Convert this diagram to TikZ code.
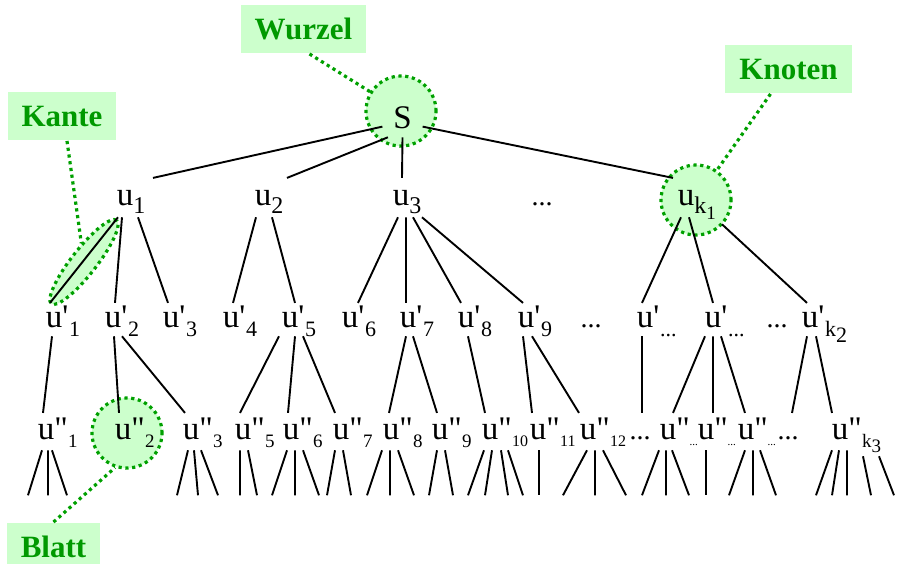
\documentclass[tikz,border=0pt]{standalone}
\usepackage{fontspec}
\usepackage{xcolor}
\usepackage{tikz}
\usetikzlibrary{shapes.geometric,backgrounds}
\newfontfamily\tms{Liberation Serif}
\definecolor{hlfill}{HTML}{CCFFCC}
\definecolor{hldot}{HTML}{00A000}
\definecolor{tagtxt}{HTML}{009900}
\newcommand{\dn}[3]{\raisebox{-#1pt}{\fontsize{#2}{#2}\selectfont #3}}
\newcommand{\sA}[1]{\rlap{\smash{\dn{8}{24}{#1}}}}
\newcommand{\sB}[1]{\rlap{\smash{'\kern1pt\dn{9}{22}{#1}}}}
\newcommand{\sC}[1]{\rlap{\smash{"\kern0.5pt\dn{8}{19}{#1}}}}
\newcommand{\sD}[1]{\rlap{\smash{"\kern0.5pt\dn{7}{16}{#1}}}}
\newcommand{\sE}{\rlap{\smash{"\dn{6}{11}{...}}}}
\newcommand{\dts}{\vphantom{u}{\fontsize{28}{28}\selectfont...}}

\begin{document}
\begin{tikzpicture}[x=1pt,y=-1pt,line width=1.9pt,
  lvl/.style={font=\tms\fontsize{33}{36}\selectfont,anchor=base,inner xsep=3pt,inner ysep=#1},
  hl/.style={fill=hlfill,draw=hldot,line width=3.2pt,dash pattern=on 3.2pt off 3.6pt,inner sep=0pt},
  tag/.style={fill=hlfill,text=tagtxt,font=\tms\bfseries\fontsize{31}{34}\selectfont,minimum height=48pt,inner xsep=14pt},
  callout/.style={draw=hldot,line width=3.2pt,dash pattern=on 3.2pt off 3.6pt}]
\useasboundingbox (0,0) rectangle (899,563);
\clip (0,0) rectangle (899,563);
% root and first level
\node[lvl=8pt,inner xsep=10pt] (S) at (402.5,128) {S};
\node[lvl=11pt] (u1) at (125,205) {u\sA{1}}; \node[lvl=11pt] (u2) at (263,205) {u\sA{2}}; \node[lvl=11pt] (u3) at (401,205) {u\sA{3}};
\node[lvl=11pt] (dA) at (542,205) {\dts}; \node[lvl=11pt] (uk1) at (686,205) {u\sA{k\dn{6}{19}{1}}};
% second level
\node[lvl=8pt] (up1) at (54,327) {u\sB{1}}; \node[lvl=8pt] (up2) at (113,327) {u\sB{2}}; \node[lvl=8pt] (up3) at (171,327) {u\sB{3}};
\node[lvl=8pt] (up4) at (231,327) {u\sB{4}}; \node[lvl=8pt] (up5) at (290,327) {u\sB{5}}; \node[lvl=8pt] (up6) at (350,327) {u\sB{6}};
\node[lvl=8pt] (up7) at (408,327) {u\sB{7}}; \node[lvl=8pt] (up8) at (466,327) {u\sB{8}}; \node[lvl=8pt] (up9) at (526,327) {u\sB{9}};
\node[lvl=8pt] (dB1) at (591,327) {\dts}; \node[lvl=8pt] (upa) at (645,327) {u\sB{...}}; \node[lvl=8pt] (upb) at (713,327) {u\sB{...}};
\node[lvl=8pt] (dB2) at (777,327) {\dts}; \node[lvl=8pt] (upk) at (810,327) {u\sB{k\dn{6}{22}{2}}};
% third level
\node[lvl=10pt] (upp1) at (46,439) {u\sC{1}}; \node[lvl=10pt] (upp2) at (123,439) {u\sC{2}}; \node[lvl=10pt] (upp3) at (191,439) {u\sC{3}};
\node[lvl=10pt] (upp5) at (243,439) {u\sC{5}}; \node[lvl=10pt] (upp6) at (291,439) {u\sC{6}}; \node[lvl=10pt] (upp7) at (341,439) {u\sC{7}};
\node[lvl=10pt] (upp8) at (391,439) {u\sC{8}}; \node[lvl=10pt] (upp9) at (440,439) {u\sC{9}}; \node[lvl=10pt] (upp10) at (490,439) {u\sD{10}};
\node[lvl=10pt] (upp11) at (538,439) {u\sD{11}}; \node[lvl=10pt] (upp12) at (588,439) {u\sD{12}}; \node[lvl=10pt] (dC) at (640,439) {\dts};
\node[lvl=10pt] (uppa) at (668,439) {u\sE}; \node[lvl=10pt] (uppb) at (706,439) {u\sE}; \node[lvl=10pt] (uppc) at (746,439) {u\sE};
\node[lvl=10pt] (dD) at (788,439) {\dts}; \node[lvl=10pt] (uppk) at (840,439) {u\sC{k\dn{5}{19}{3}}};
% green marks behind the tree
\begin{scope}[on background layer]
\node[hl,circle,minimum size=70pt] (hlS) at (401,111) {};
\node[hl,circle,minimum size=70pt] (hlK) at (696,200) {};
\node[hl,circle,minimum size=70pt] (hlB) at (127,433) {};
\node[hl,ellipse,minimum width=106pt,minimum height=25pt,rotate=52] (hlE) at (84,262) {};
\end{scope}
% edges
\draw (S.205) -- ([xshift=28pt]u1.north) (S.234) -- ([xshift=24pt]u2.north) (S.south) -- ([xshift=1pt]u3.north) (S.-25) -- ([xshift=-13pt]uk1.north);
\draw ([xshift=-7pt]u1.south) -- ([xshift=-4pt]up1.north) ([xshift=-3pt]u1.south) -- ([xshift=2pt]up2.north) ([xshift=13pt]u1.south) -- ([xshift=-3pt]up3.north);
\draw ([xshift=-7pt]u2.south) -- ([xshift=2pt]up4.north) ([xshift=9pt]u2.south) -- ([xshift=5pt]up5.north);
\draw ([xshift=-3pt]u3.south) -- ([xshift=8pt]up6.north) ([xshift=5pt]u3.south) -- ([xshift=-2pt]up7.north) ([xshift=12pt]u3.south) -- ([xshift=-5pt]up8.north) ([xshift=21pt]u3.south) -- ([xshift=-3pt]up9.north);
\draw ([xshift=-5pt]uk1.south) -- ([xshift=-3pt]upa.north) ([xshift=3pt]uk1.south) -- (upb.north) ([xshift=36pt,yshift=-7pt]uk1.south) -- ([xshift=-3pt]upk.north);
\draw ([xshift=-2pt]up1.south) -- ([xshift=-3pt]upp1.north);
\draw ([xshift=1pt]up2.south) -- ([xshift=-4pt]upp2.north) ([xshift=9pt]up2.south) -- ([xshift=-6pt]upp3.north);
\draw ([xshift=-11pt]up5.south) -- ([xshift=-3pt]upp5.north) ([xshift=5pt]up5.south) -- ([xshift=-3pt]upp6.north) ([xshift=13pt]up5.south) -- ([xshift=-6pt]upp7.north);
\draw ([xshift=-2pt]up7.south) -- ([xshift=-2pt]upp8.north) ([xshift=5pt]up7.south) -- ([xshift=-3pt]upp9.north);
\draw ([xshift=2pt]up8.south) -- ([xshift=-5pt]upp10.north);
\draw ([xshift=-3pt]up9.south) -- ([xshift=-6pt]upp11.north) ([xshift=6pt]up9.south) -- ([xshift=-9pt]upp12.north);
\draw ([xshift=-3pt]upa.south) -- ([xshift=2pt]dC.north);
\draw ([xshift=-8pt]upb.south) -- ([xshift=5pt]uppa.north) (upb.south) -- ([xshift=7pt]uppb.north) ([xshift=8pt]upb.south) -- ([xshift=-1pt]uppc.north);
\draw ([xshift=-3pt]upk.south) -- ([xshift=4pt]dD.north) ([xshift=6pt]upk.south) -- ([xshift=-8pt]uppk.north);
% leaves
\draw ([xshift=-4pt]upp1.south) -- +(-14,45) ([xshift=2pt]upp1.south) -- +(0,45) ([xshift=6pt]upp1.south) -- +(15,45);
\draw ([xshift=-3pt]upp3.south) -- +(-11,45) ([xshift=3pt]upp3.south) -- +(4,45) ([xshift=10pt]upp3.south) -- +(17,45);
\draw ([xshift=-3pt]upp5.south) -- +(0,45) ([xshift=5pt]upp5.south) -- +(9,45);
\draw ([xshift=-4pt]upp6.south) -- +(-15,45) ([xshift=4pt]upp6.south) -- +(0,45) ([xshift=12pt]upp6.south) -- +(16,45);
\draw ([xshift=-6pt]upp7.south) -- +(-8,45) ([xshift=2pt]upp7.south) -- +(8,45);
\draw ([xshift=-9pt]upp8.south) -- +(-15,45) ([xshift=-1pt]upp8.south) -- +(0,45) ([xshift=7pt]upp8.south) -- +(16,45);
\draw ([xshift=-3pt]upp9.south) -- +(-8,45) ([xshift=5pt]upp9.south) -- +(8,45);
\draw ([xshift=-6pt]upp10.south) -- +(-16,45) ([xshift=2pt]upp10.south) -- +(-7,45) ([xshift=11pt]upp10.south) -- +(7,45) ([xshift=18pt]upp10.south) -- +(15,45);
\draw ([xshift=1pt]upp11.south) -- +(0,45);
\draw ([xshift=-1pt]upp12.south) -- +(-24,45) ([xshift=7pt]upp12.south) -- +(0,45) ([xshift=15pt]upp12.south) -- +(23,45);
\draw ([xshift=-9pt]uppa.south) -- +(-17,45) ([xshift=-2pt]uppa.south) -- +(0,45) ([xshift=4pt]uppa.south) -- +(17,45);
\draw (uppb.south) -- +(0,45);
\draw ([xshift=-1pt]uppc.south) -- +(-16,45) ([xshift=7pt]uppc.south) -- +(0,45) ([xshift=14pt]uppc.south) -- +(16,45);
\draw ([xshift=-8pt]uppk.south) -- +(-16,45) ([xshift=-1pt]uppk.south) -- +(-7,45) ([xshift=7pt]uppk.south) -- +(0,45)
  ([xshift=23pt,yshift=-6pt]uppk.south) -- +(8,39) ([xshift=39pt,yshift=-6pt]uppk.south) -- +(15,39);
% labels
\node[tag] (lblW) at (303.5,29) {Wurzel};
\node[tag] (lblE) at (62,116) {Kante};
\node[tag] (lblK) at (788.5,69) {Knoten};
\node[tag] (lblB) at (53.5,547) {Blatt};
\draw[callout] ([xshift=6pt]lblW.south) -- (hlS);
\draw[callout] ([xshift=-18pt]lblK.south) -- (hlK);
\draw[callout] ([xshift=5pt]lblE.south) -- (hlE);
\draw[callout] (lblB.north) -- (hlB.251);
\end{tikzpicture}
\end{document}
